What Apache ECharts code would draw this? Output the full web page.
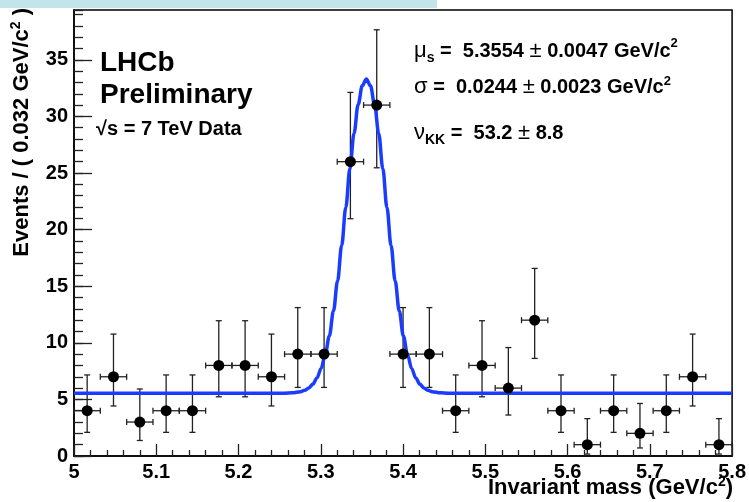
<!DOCTYPE html>
<html>
<head>
<meta charset="utf-8">
<script src="https://cdn.jsdelivr.net/npm/echarts@6/dist/echarts.min.js"></script>
<style>
  html, body { margin: 0; padding: 0; background: #fff; }
  #chart { width: 749px; height: 502px; }
</style>
</head>
<body>
<div id="chart"></div>
<script>
// bin centres (GeV/c^2), bin width 0.032
const binWidth = 0.032;
const massBins = [5.016, 5.048, 5.080, 5.112, 5.144, 5.176, 5.208, 5.240, 5.272, 5.304,
  5.336, 5.368, 5.400, 5.432, 5.464, 5.496, 5.528, 5.560, 5.592, 5.624,
  5.656, 5.688, 5.720, 5.752, 5.784];
const events = [4, 7, 3, 4, 4, 8, 8, 7, 9, 9, 26, 31, 9, 9, 4, 8, 6, 12, 4, 1, 4, 2, 4, 7, 1];
// asymmetric error bar ends
const errLow = [2.09, 4.42, 1.37, 2.09, 2.09, 5.23, 5.23, 4.42, 6.06, 6.06, 20.96, 25.46,
  6.06, 6.06, 2.09, 5.23, 3.62, 8.62, 2.09, 0.17, 2.09, 0.71, 2.09, 4.42, 0.17];
const errHigh = [7.16, 10.77, 5.92, 7.16, 7.16, 11.95, 11.95, 10.77, 13.11, 13.11, 32.12, 37.65,
  13.11, 13.11, 7.16, 11.95, 9.58, 16.57, 7.16, 3.30, 7.16, 4.64, 7.16, 10.77, 3.30];

// fitted curve
const fitMass = [5.0, 5.2554, 5.2654, 5.2754, 5.2804, 5.2854, 5.2904, 5.2954, 5.3004, 5.3054,
  5.3104, 5.3154, 5.3204, 5.3254, 5.3304, 5.3354, 5.3404, 5.3454, 5.3504, 5.3554,
  5.3604, 5.3654, 5.3704, 5.3754, 5.3804, 5.3854, 5.3904, 5.3954, 5.4004, 5.4054,
  5.4104, 5.4154, 5.4204, 5.4254, 5.4304, 5.4354, 5.4454, 5.4554, 5.8];
const fitValue = [5.55, 5.55, 5.58, 5.68, 5.80, 6.0, 6.35, 6.9, 7.74, 8.95,
  10.6, 12.8, 15.47, 18.6, 21.96, 25.4, 28.5, 31.05, 32.7, 33.3,
  32.7, 31.05, 28.5, 25.4, 21.96, 18.6, 15.47, 12.8, 10.6, 8.95,
  7.74, 6.9, 6.35, 6.0, 5.80, 5.68, 5.58, 5.55, 5.55];

const yTicks = [0, 5, 10, 15, 20, 25, 30, 35];
const xTicks = [5, 5.1, 5.2, 5.3, 5.4, 5.5, 5.6, 5.7, 5.8];

const FONT = '"Liberation Sans", Arial, Helvetica, sans-serif';

const chart = echarts.init(document.getElementById('chart'));

const errData = massBins.map((m, i) => [m, errLow[i], errHigh[i], events[i]]);
const pointData = massBins.map((m, i) => [m, events[i]]);
const fitData = fitMass.map((m, i) => [m, fitValue[i]]);

function errorBars(params, api) {
  const x = api.value(0);
  const lo = api.coord([x, api.value(1)]);
  const hi = api.coord([x, api.value(2)]);
  const left = api.coord([x - binWidth / 2, api.value(3)]);
  const right = api.coord([x + binWidth / 2, api.value(3)]);
  const c = 3;
  const style = { stroke: '#222', lineWidth: 1.3 };
  const seg = (x1, y1, x2, y2) => ({ type: 'line', shape: { x1, y1, x2, y2 }, style });
  return {
    type: 'group',
    children: [
      seg(lo[0], lo[1], hi[0], hi[1]),
      seg(lo[0] - c, lo[1], lo[0] + c, lo[1]),
      seg(hi[0] - c, hi[1], hi[0] + c, hi[1]),
      seg(left[0], left[1], right[0], right[1]),
      seg(left[0], left[1] - c, left[0], left[1] + c),
      seg(right[0], right[1] - c, right[0], right[1] + c)
    ]
  };
}

const labelStyle = { color: '#000', fontFamily: FONT, fontWeight: 'bold', fontSize: 20 };
const richBase = {
  b: { fontFamily: FONT, fontWeight: 'bold', fontSize: 20, lineHeight: 24, color: '#000' },
  g: { fontFamily: FONT, fontWeight: 'normal', fontSize: 22, lineHeight: 24, color: '#000' },
  sub: { fontFamily: FONT, fontWeight: 'bold', fontSize: 14, lineHeight: 28, verticalAlign: 'bottom', color: '#000' },
  sup: { fontFamily: FONT, fontWeight: 'bold', fontSize: 13, lineHeight: 24, verticalAlign: 'top', color: '#000' }
};
const richTitle = {
  b: { fontFamily: FONT, fontWeight: 'bold', fontSize: 22, lineHeight: 26, color: '#000' },
  sup: { fontFamily: FONT, fontWeight: 'bold', fontSize: 14, lineHeight: 26, verticalAlign: 'top', color: '#000' }
};

const options = {
  animation: false,
  grid: { left: 74, right: 16, top: 10, bottom: 46, show: true, borderColor: '#000', borderWidth: 1.5 },
  xAxis: {
    type: 'value',
    min: 5,
    max: 5.8,
    interval: 0.1,
    axisLine: { lineStyle: { color: '#000', width: 1.5 } },
    axisTick: { inside: true, length: 12, lineStyle: { color: '#222', width: 1.3 } },
    minorTick: { show: true, splitNumber: 5, length: 6, lineStyle: { color: '#222', width: 1.3 } },
    axisLabel: Object.assign({ margin: 6, formatter: v => (xTicks.includes(+v.toFixed(2)) ? String(+v.toFixed(2)) : '') }, labelStyle),
    splitLine: { show: false }
  },
  yAxis: [
    {
      type: 'value',
      position: 'left',
      min: 0,
      max: 39.4,
      interval: 5,
      axisLine: { show: true, lineStyle: { color: '#000', width: 1.5 } },
      axisTick: { inside: true, length: 18, lineStyle: { color: '#222', width: 1.3 } },
      axisLabel: Object.assign({ margin: 6, showMaxLabel: false, formatter: v => (yTicks.includes(v) ? String(v) : '') }, labelStyle),
      splitLine: { show: false }
    },
    {
      type: 'value',
      position: 'left',
      min: 0,
      max: 39.4,
      interval: 1,
      axisLine: { show: false },
      axisTick: { inside: true, length: 9, lineStyle: { color: '#222', width: 1.3 } },
      axisLabel: { show: false },
      splitLine: { show: false }
    }
  ],
  graphic: [
    { type: 'rect', shape: { x: 0, y: 0, width: 437, height: 8 }, style: { fill: '#c3e5e9' }, z: 100 },
    { type: 'text', x: 100, y: 63, style: { text: 'LHCb', fontFamily: FONT, fontWeight: 'bold', fontSize: 28, fill: '#000', verticalAlign: 'middle' } },
    { type: 'text', x: 100, y: 95, style: { text: 'Preliminary', fontFamily: FONT, fontWeight: 'bold', fontSize: 28, fill: '#000', verticalAlign: 'middle' } },
    { type: 'text', x: 96, y: 129, style: { text: '\u221As = 7 TeV Data', fontFamily: FONT, fontWeight: 'bold', fontSize: 20, fill: '#000', verticalAlign: 'middle' } },
    { type: 'text', x: 414, y: 51, style: { text: '{g|\u03BC}{sub|s}{b| =  5.3554 }{g|\u00B1}{b| 0.0047 GeV/c}{sup|2}', rich: richBase, verticalAlign: 'middle' } },
    { type: 'text', x: 414, y: 87, style: { text: '{g|\u03C3}{b| =  0.0244 }{g|\u00B1}{b| 0.0023 GeV/c}{sup|2}', rich: richBase, verticalAlign: 'middle' } },
    { type: 'text', x: 414, y: 133, style: { text: '{g|\u03BD}{sub|KK}{b| =  53.2 }{g|\u00B1}{b| 8.8}', rich: richBase, verticalAlign: 'middle' } },
    { type: 'text', x: 733, y: 488, style: { text: '{b|Invariant mass (GeV/c}{sup|2}{b|)}', rich: richTitle, align: 'right', verticalAlign: 'middle' } },
    { type: 'text', x: 22, y: 8, rotation: Math.PI / 2, style: { text: '{b|Events / ( 0.032 GeV/c}{sup|2}{b| )}', rich: richTitle, align: 'right', verticalAlign: 'middle' } }
  ],
  series: [
    {
      name: 'errors',
      type: 'custom',
      renderItem: errorBars,
      encode: { x: 0, y: [1, 2] },
      data: errData,
      z: 2
    },
    {
      name: 'fit',
      type: 'line',
      data: fitData,
      showSymbol: false,
      smooth: 0.35,
      smoothMonotone: 'x',
      lineStyle: { color: '#1a3cff', width: 3.5 },
      z: 3
    },
    {
      name: 'data',
      type: 'scatter',
      data: pointData,
      symbol: 'circle',
      symbolSize: 11,
      itemStyle: { color: '#000', opacity: 1 },
      z: 4
    }
  ]
};

chart.setOption(options);
</script>
</body>
</html>
